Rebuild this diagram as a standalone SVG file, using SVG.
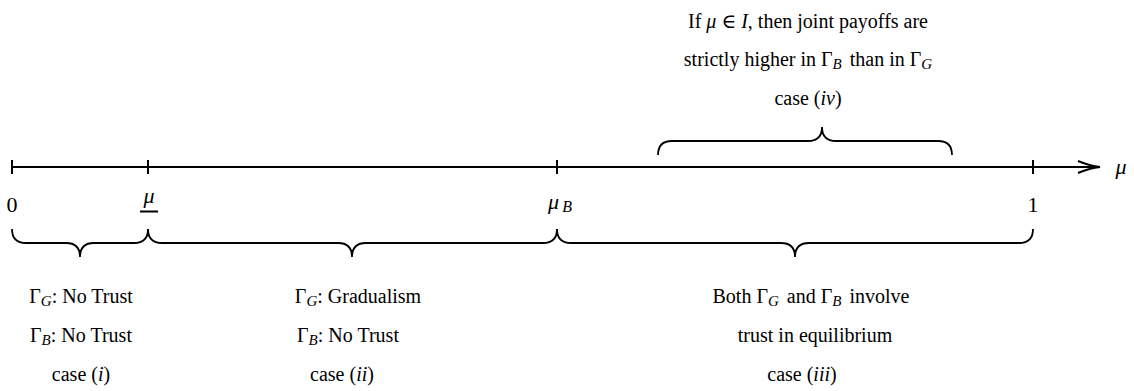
<svg xmlns="http://www.w3.org/2000/svg" width="1134" height="391" viewBox="0 0 1134 391">
<style>
.ln{fill:none;stroke:#000;stroke-width:2;stroke-linecap:butt}
.br{fill:none;stroke:#000;stroke-width:1.8}
text{font-family:"Liberation Serif","DejaVu Serif",serif;font-size:20px;fill:#000}
.c{text-anchor:middle}
.m{font-style:italic}
.s{font-style:italic;font-size:15px}
.big{font-size:22px}
</style>
<rect width="1134" height="391" fill="#fff"/>
<g id="connectors">
<path class="ln" d="M12,167 H1096"/>
<path class="ln" d="M12,160 V174 M148,160 V174 M557,160 V174 M1033,160 V174"/>
<path class="ln" d="M1078,161 Q1090,166 1100,167 Q1090,168 1078,173"/>
</g>
<g id="axis-labels">
<text class="big" x="12" y="212" text-anchor="middle">0</text>
<text class="big m" x="149" y="203" text-anchor="middle">μ</text>
<path class="ln" d="M140,211.5 H158"/>
<text class="big" x="560" y="209" text-anchor="middle"><tspan class="m">μ</tspan><tspan class="m" font-size="16" dx="3" dy="3">B</tspan></text>
<text class="big" x="1033" y="212" text-anchor="middle">1</text>
<text class="big m" x="1121" y="174" text-anchor="middle">μ</text>
</g>
<g id="brace-i">
<path class="br" d="M12,229 Q12,243 26,243 L66,243 Q80,243 80,257 Q80,243 94,243 L134,243 Q148,243 148,229"/>
</g>
<g id="brace-ii">
<path class="br" d="M148,229 Q148,243 162,243 L338,243 Q352,243 352,257 Q352,243 366,243 L543,243 Q557,243 557,229"/>
</g>
<g id="brace-iii">
<path class="br" d="M557,229 Q557,243 571,243 L781,243 Q795,243 795,257 Q795,243 809,243 L1019,243 Q1033,243 1033,229"/>
</g>
<g id="brace-iv">
<path class="br" d="M658,155 Q658,141 672,141 L808,141 Q822,141 822,127 Q822,141 836,141 L938,141 Q952,141 952,155"/>
</g>
<g id="label-iv">
<text class="c" x="808" y="28">If <tspan class="m">μ</tspan> ∈ <tspan class="m">I</tspan>, then joint payoffs are</text>
<text class="c" x="808" y="66">strictly higher in Γ<tspan class="s" dy="3">B</tspan><tspan dy="-3" dx="3"> than in Γ</tspan><tspan class="s" dy="3">G</tspan></text>
<text class="c" x="808" y="105">case (<tspan class="m">iv</tspan>)</text>
</g>
<g id="label-i">
<text class="c" x="81" y="303">Γ<tspan class="s" dy="3">G</tspan><tspan dy="-3">: No Trust</tspan></text>
<text class="c" x="81" y="342">Γ<tspan class="s" dy="3">B</tspan><tspan dy="-3">: No Trust</tspan></text>
<text class="c" x="81" y="381">case (<tspan class="m">i</tspan>)</text>
</g>
<g id="label-ii">
<text class="c" x="358" y="303">Γ<tspan class="s" dy="3">G</tspan><tspan dy="-3">: Gradualism</tspan></text>
<text class="c" x="348" y="342">Γ<tspan class="s" dy="3">B</tspan><tspan dy="-3">: No Trust</tspan></text>
<text class="c" x="342" y="381">case (<tspan class="m">ii</tspan>)</text>
</g>
<g id="label-iii">
<text class="c" x="811" y="303">Both Γ<tspan class="s" dy="3">G</tspan><tspan dy="-3" dx="3"> and Γ</tspan><tspan class="s" dy="3">B</tspan><tspan dy="-3" dx="3"> involve</tspan></text>
<text class="c" x="815" y="342">trust in equilibrium</text>
<text class="c" x="802" y="381">case (<tspan class="m">iii</tspan>)</text>
</g>
</svg>
